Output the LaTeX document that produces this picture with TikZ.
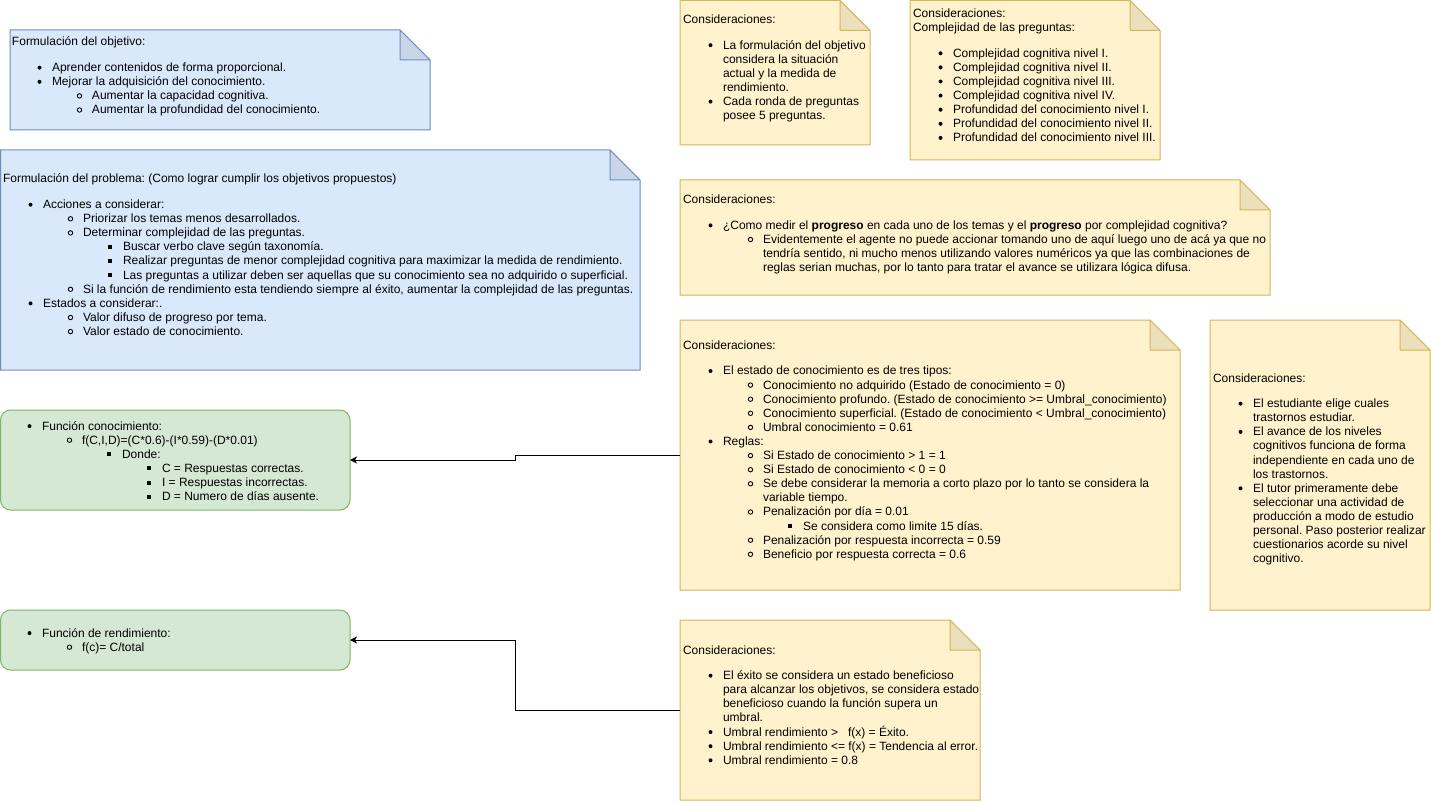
\documentclass[tikz,border=0pt]{standalone}
\usepackage{fontspec}
\setmainfont{Liberation Sans}
\usepackage{enumitem}
\usetikzlibrary{arrows.meta}

\definecolor{blueFill}{HTML}{DAE8FC}
\definecolor{blueLine}{HTML}{6C8EBF}
\definecolor{yelFill}{HTML}{FFF2CC}
\definecolor{yelLine}{HTML}{D6B656}
\definecolor{grnFill}{HTML}{D5E8D4}
\definecolor{grnLine}{HTML}{82B366}

% list markers: filled disc, open circle, filled square
\newcommand\mkdisc{\tikz[baseline=0pt]{\fill[black] (-12.5pt,3.9pt) circle (2pt); \path (0pt,0pt);}}
\newcommand\mkcirc{\tikz[baseline=0pt]{\draw[black,line width=0.9pt] (-12.5pt,3.9pt) circle (2.2pt); \path (0pt,0pt);}}
\newcommand\mksq{\tikz[baseline=0pt]{\fill[black] (-15.5pt,1.9pt) rectangle (-11.5pt,5.9pt); \path (0pt,0pt);}}

\setlist[itemize]{leftmargin=40pt, labelsep=0pt, labelwidth=20pt, itemindent=0pt, align=right,
  topsep=0pt, partopsep=0pt, parsep=0pt, itemsep=0pt}
\setlist[itemize,1]{label={\mkdisc}, topsep=11.5pt}
\setlist[itemize,2]{label={\mkcirc}}
\setlist[itemize,3]{label={\mksq}}
\setlist[itemize,4]{label={\mksq}}

% note shape with folded top-right corner
\newcommand\drawnote[3]{%
  \filldraw[fill=#2, draw=#3, line width=1pt] (#1.north west) -- ([xshift=-30pt]#1.north east)
    -- ([yshift=-30pt]#1.north east) -- (#1.south east) -- (#1.south west) -- cycle;
  \filldraw[fill=#2!92!black, draw=#3, line width=1pt, line join=round] ([xshift=-30pt]#1.north east)
    -- ([xshift=-30pt,yshift=-30pt]#1.north east) -- ([yshift=-30pt]#1.north east) -- cycle;}

\tikzset{
  frame/.style={rectangle, draw=none, inner sep=0pt, outer sep=0pt},
  txt/.style={anchor=base west, inner sep=0pt, outer sep=0pt, text=black,
    font=\fontsize{12pt}{14.1pt}\selectfont\frenchspacing},
  fbox/.style={rectangle, rounded corners=10pt, fill=grnFill, draw=grnLine, line width=1pt,
    inner sep=0pt, outer sep=0pt},
  link/.style={draw=black, line width=1pt, -{Stealth[length=7pt,width=7pt,inset=2pt]}}
}

\begin{document}
\frenchspacing
\begin{tikzpicture}[x=1pt,y=-1pt]
\useasboundingbox (0,0) rectangle (1431,802);

% frames of the notes
\node[frame, minimum width=420pt, minimum height=100pt] (obj) at (220,80) {};
\node[frame, minimum width=639.5pt, minimum height=220pt] (prob) at (320.25,260) {};
\node[frame, minimum width=190pt, minimum height=144.5pt] (cons1) at (775,72.75) {};
\node[frame, minimum width=250pt, minimum height=159.5pt] (cons2) at (1035,80.25) {};
\node[frame, minimum width=590pt, minimum height=115pt] (prog) at (975,237.5) {};
\node[frame, minimum width=500pt, minimum height=270pt] (state) at (930,455) {};
\node[frame, minimum width=220pt, minimum height=290pt] (tutor) at (1320,465) {};
\node[frame, minimum width=300pt, minimum height=180pt] (succ) at (830,710) {};

\drawnote{obj}{blueFill}{blueLine}
\drawnote{prob}{blueFill}{blueLine}
\drawnote{cons1}{yelFill}{yelLine}
\drawnote{cons2}{yelFill}{yelLine}
\drawnote{prog}{yelFill}{yelLine}
\drawnote{state}{yelFill}{yelLine}
\drawnote{tutor}{yelFill}{yelLine}
\drawnote{succ}{yelFill}{yelLine}

% function boxes
\node[fbox, minimum width=349.5pt, minimum height=100pt] (know) at (175.25,460) {};
\node[fbox, minimum width=349.5pt, minimum height=60pt] (perf) at (175.25,640) {};

% connectors
\draw[link] (state.west) -- ++(-165,0) |- (know.east);
\draw[link] (succ.west) -- ++(-165,0) |- (perf.east);

% texts
\node[txt] (tobj) at (12,46) {\begin{minipage}[t]{600pt}
Formulación del objetivo:
\begin{itemize}
\item Aprender contenidos de forma proporcional.
\item Mejorar la adquisición del conocimiento.
  \begin{itemize}
  \item Aumentar la capacidad cognitiva.
  \item Aumentar la profundidad del conocimiento.
  \end{itemize}
\end{itemize}
\end{minipage}};

\node[txt] (tprob) at (3,183) {\begin{minipage}[t]{700pt}
Formulación del problema: (Como lograr cumplir los objetivos propuestos)
\begin{itemize}
\item Acciones a considerar:
  \begin{itemize}
  \item Priorizar los temas menos desarrollados.
  \item Determinar complejidad de las preguntas.
    \begin{itemize}
    \item Buscar verbo clave según taxonomía.
    \item Realizar preguntas de menor complejidad cognitiva para maximizar la medida de rendimiento.
    \item Las preguntas a utilizar deben ser aquellas que su conocimiento sea no adquirido o superficial.
    \end{itemize}
  \item Si la función de rendimiento esta tendiendo siempre al éxito, aumentar la complejidad de las preguntas.
  \end{itemize}
\item Estados a considerar:.
  \begin{itemize}
  \item Valor difuso de progreso por tema.
  \item Valor estado de conocimiento.
  \end{itemize}
\end{itemize}
\end{minipage}};

\node[txt] (tknow) at (2,430) {\begin{minipage}[t]{400pt}
\begin{itemize}
\item Función conocimiento:
  \begin{itemize}
  \item f(C,I,D)=(C*0.6)-(I*0.59)-(D*0.01)
    \begin{itemize}
    \item Donde:
      \begin{itemize}
      \item C = Respuestas correctas.
      \item I = Respuestas incorrectas.
      \item D = Numero de días ausente.
      \end{itemize}
    \end{itemize}
  \end{itemize}
\end{itemize}
\end{minipage}};

\node[txt] (tperf) at (2,637) {\begin{minipage}[t]{400pt}
\begin{itemize}
\item Función de rendimiento:
  \begin{itemize}
  \item f(c)= C/total
  \end{itemize}
\end{itemize}
\end{minipage}};

\node[txt] (tcons1) at (683,23.5) {\begin{minipage}[t]{400pt}
Consideraciones:
\begin{itemize}
\item La formulación del objetivo\newline considera la situación\newline actual y la medida de\newline rendimiento.
\item Cada ronda de preguntas\newline posee 5 preguntas.
\end{itemize}
\end{minipage}};

\node[txt] (tcons2) at (913,17.5) {\begin{minipage}[t]{400pt}
Consideraciones:\\
Complejidad de las preguntas:
\begin{itemize}
\item Complejidad cognitiva nivel I.
\item Complejidad cognitiva nivel II.
\item Complejidad cognitiva nivel III.
\item Complejidad cognitiva nivel IV.
\item Profundidad del conocimiento nivel I.
\item Profundidad del conocimiento nivel II.
\item Profundidad del conocimiento nivel III.
\end{itemize}
\end{minipage}};

\node[txt] (tprog) at (683,203.7) {\begin{minipage}[t]{700pt}
Consideraciones:
\begin{itemize}
\item ¿Como medir el \textbf{progreso} en cada uno de los temas y el \textbf{progreso} por complejidad cognitiva?
  \begin{itemize}
  \item Evidentemente el agente no puede accionar tomando uno de aquí luego uno de acá ya que no\newline
  tendría sentido, ni mucho menos utilizando valores numéricos ya que las combinaciones de\newline
  reglas serian muchas, por lo tanto para tratar el avance se utilizara lógica difusa.
  \end{itemize}
\end{itemize}
\end{minipage}};

\node[txt] (tstate) at (683,349.3) {\begin{minipage}[t]{600pt}
Consideraciones:
\begin{itemize}
\item El estado de conocimiento es de tres tipos:
  \begin{itemize}
  \item Conocimiento no adquirido (Estado de conocimiento = 0)
  \item Conocimiento profundo. (Estado de conocimiento >= Umbral\_conocimiento)
  \item Conocimiento superficial. (Estado de conocimiento < Umbral\_conocimiento)
  \item Umbral conocimiento = 0.61
  \end{itemize}
\item Reglas:
  \begin{itemize}
  \item Si Estado de conocimiento > 1 = 1
  \item Si Estado de conocimiento < 0 = 0
  \item Se debe considerar la memoria a corto plazo por lo tanto se considera la\newline variable tiempo.
  \item Penalización por día = 0.01
    \begin{itemize}
    \item Se considera como limite 15 días.
    \end{itemize}
  \item Penalización por respuesta incorrecta = 0.59
  \item Beneficio por respuesta correcta = 0.6
  \end{itemize}
\end{itemize}
\end{minipage}};

\node[txt] (ttutor) at (1213,382) {\begin{minipage}[t]{400pt}
Consideraciones:
\begin{itemize}
\item El estudiante elige cuales\newline trastornos estudiar.
\item El avance de los niveles\newline cognitivos funciona de forma\newline independiente en cada uno de\newline los trastornos.
\item El tutor primeramente debe\newline seleccionar una actividad de\newline producción a modo de estudio\newline personal. Paso posterior realizar\newline cuestionarios acorde su nivel\newline cognitivo.
\end{itemize}
\end{minipage}};

\node[txt] (tsucc) at (683,654) {\begin{minipage}[t]{400pt}
Consideraciones:
\begin{itemize}
\item El éxito se considera un estado beneficioso\newline para alcanzar los objetivos, se considera estado\newline beneficioso cuando la función supera un\newline umbral.
\item Umbral rendimiento >\ \ \ f(x) = Éxito.
\item Umbral rendimiento <= f(x) = Tendencia al error.
\item Umbral rendimiento = 0.8
\end{itemize}
\end{minipage}};

\end{tikzpicture}
\end{document}
